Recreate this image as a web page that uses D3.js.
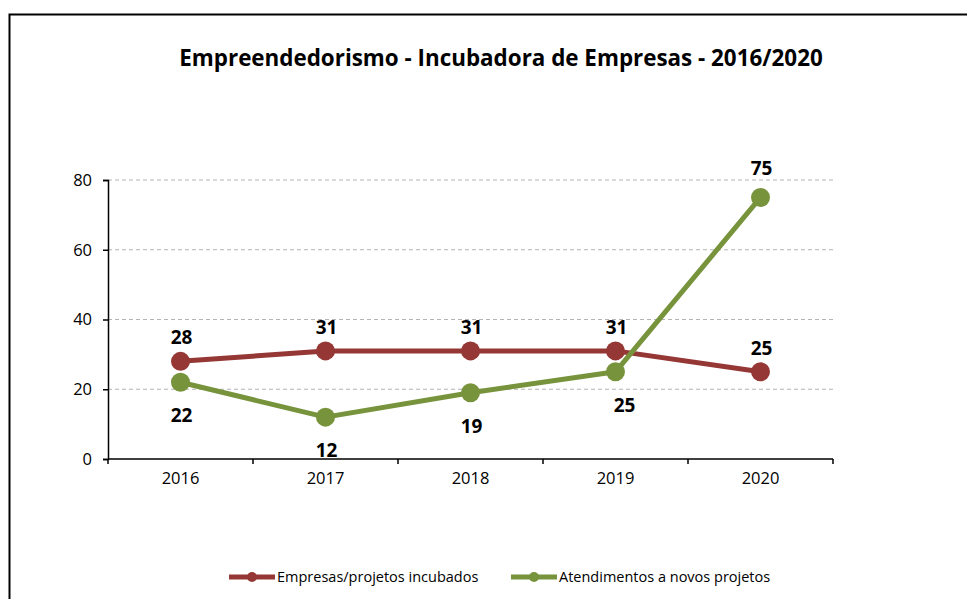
<!DOCTYPE html>
<html>
<head>
<meta charset="utf-8">
<script src="https://cdn.jsdelivr.net/npm/d3@7"></script>
<style>
  body { margin: 0; background: #fff; }
  svg { display: block; font-family: "Open Sans", "Noto Sans", sans-serif; }
</style>
</head>
<body>
<div id="chart"></div>
<script>
// data
const years = ['2016', '2017', '2018', '2019', '2020'];
const incubados = [28, 31, 31, 31, 25];
const atendimentos = [22, 12, 19, 25, 75];
const yTicks = [0, 20, 40, 60, 80];
const seriesNames = ['Empresas/projetos incubados', 'Atendimentos a novos projetos'];
// label side per point: -1 above, 1 below
const labelSideGreen = [1, 1, 1, 1, -1];

const W = 967, H = 599;
const margin = { top: 180, right: 134, bottom: 140, left: 108 };
const width = W - margin.left - margin.right;
const height = H - margin.top - margin.bottom;

const colors = ['#953735', '#77933c'];

const svgRoot = d3.select('#chart')
  .append('svg')
  .attr('width', W)
  .attr('height', H);

// chart border
svgRoot.append('rect')
  .attr('x', 9.5)
  .attr('y', 14.5)
  .attr('width', W + 20)
  .attr('height', H + 20)
  .attr('fill', 'none')
  .attr('stroke', '#000')
  .attr('stroke-width', 2);

// title
svgRoot.append('text')
  .attr('x', 501)
  .attr('y', 66)
  .attr('text-anchor', 'middle')
  .style('font-size', '22.4px')
  .style('font-weight', 'bold')
  .text('Empreendedorismo - Incubadora de Empresas - 2016/2020');

const svg = svgRoot.append('g')
  .attr('transform', `translate(${margin.left},${margin.top})`);

const x = d3.scaleBand().domain(years).range([0, width]);
const y = d3.scaleLinear().domain([0, 80]).range([height, 0]);

// gridlines
svg.append('g')
  .selectAll('line')
  .data(yTicks.filter(d => d > 0))
  .enter()
  .append('line')
  .attr('x1', 0)
  .attr('x2', width)
  .attr('y1', d => y(d))
  .attr('y2', d => y(d))
  .attr('stroke', '#b3b3b3')
  .attr('stroke-dasharray', '4,3');

// Y axis
const yAxis = svg.append('g')
  .call(d3.axisLeft(y).tickValues(yTicks).tickSize(5).tickPadding(11));
yAxis.select('.domain').attr('stroke', '#000').attr('stroke-width', 1.5);
yAxis.selectAll('.tick line').attr('stroke', '#000').attr('stroke-width', 1.5);
yAxis.selectAll('text').style('font-size', '16.5px').style('font-family', 'Open Sans, sans-serif').attr('fill', '#000');

// X axis with ticks between categories
const xAxis = svg.append('g')
  .attr('transform', `translate(0,${height})`)
  .call(d3.axisBottom(x).tickSize(0).tickPadding(13));
xAxis.select('.domain').attr('d', `M0,0H${width}`).attr('stroke', '#000').attr('stroke-width', 1.5);
xAxis.selectAll('text').style('font-size', '16.5px').style('font-family', 'Open Sans, sans-serif').attr('fill', '#000');
xAxis.selectAll('.sep')
  .data(years.map((d, i) => i).concat([years.length]))
  .enter()
  .append('line')
  .attr('x1', i => i * x.step())
  .attr('x2', i => i * x.step())
  .attr('y1', 0)
  .attr('y2', 5)
  .attr('stroke', '#000')
  .attr('stroke-width', 1.5);

const cx = d => x(d) + x.bandwidth() / 2;
const line = d3.line().x(d => cx(d.year)).y(d => y(d.value));

const series = [incubados, atendimentos].map((vals, s) =>
  vals.map((v, i) => ({ year: years[i], value: v, s, i })));

series.forEach((pts, s) => {
  svg.append('path')
    .datum(pts)
    .attr('d', line)
    .attr('fill', 'none')
    .attr('stroke', colors[s])
    .attr('stroke-width', 5)
    .attr('stroke-linejoin', 'round');
});

series.forEach((pts, s) => {
  svg.append('g')
    .selectAll('circle')
    .data(pts)
    .enter()
    .append('circle')
    .attr('cx', d => cx(d.year))
    .attr('cy', d => y(d.value))
    .attr('r', 9.5)
    .attr('fill', colors[s]);
});

// data labels
series.forEach((pts, s) => {
  svg.append('g')
    .selectAll('text')
    .data(pts)
    .enter()
    .append('text')
    .attr('x', d => cx(d.year) + (s === 1 && d.i === 3 ? 9 : 1))
    .attr('y', d => {
      const side = s === 0 ? -1 : labelSideGreen[d.i];
      if (side < 0) return y(d.value) - (s === 1 ? 22 : 17);
      return y(d.value) + 40;
    })
    .attr('text-anchor', 'middle')
    .style('font-size', '19px')
    .style('font-weight', 'bold')
    .text(d => d.value);
});

// legend
const legendItems = [
  { name: seriesNames[0], x: 229, color: colors[0] },
  { name: seriesNames[1], x: 511, color: colors[1] },
];
const legend = svgRoot.append('g').attr('transform', 'translate(0,577)');
legendItems.forEach(it => {
  legend.append('line')
    .attr('x1', it.x).attr('x2', it.x + 46)
    .attr('y1', 0).attr('y2', 0)
    .attr('stroke', it.color).attr('stroke-width', 5);
  legend.append('circle')
    .attr('cx', it.x + 23).attr('cy', 0).attr('r', 5)
    .attr('fill', it.color);
  legend.append('text')
    .attr('x', it.x + 48)
    .attr('y', 5)
    .style('font-size', '14.5px')
    .text(it.name);
});
</script>
</body>
</html>
